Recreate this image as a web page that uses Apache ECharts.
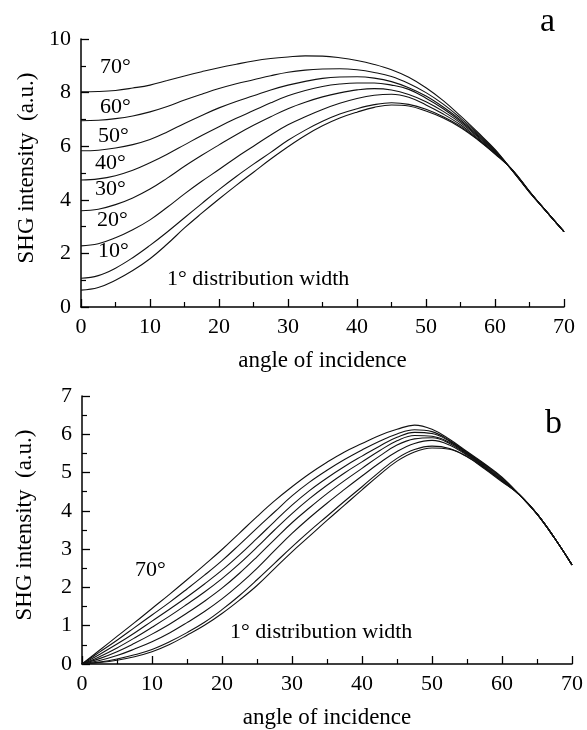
<!DOCTYPE html>
<html>
<head>
<meta charset="utf-8">
<title>SHG intensity vs angle of incidence</title>
<script src="https://cdn.jsdelivr.net/npm/echarts@6/dist/echarts.min.js"></script>
<style>
  html, body { margin: 0; padding: 0; background: #fff; }
  #chart { width: 587px; height: 730px; }
</style>
</head>
<body>
<div id="chart"></div>
<script>
// Angles of incidence (deg), shared by both panels
const angles = [0, 2.5, 5, 7.5, 10, 12.5, 15, 17.5, 20, 22.5, 25, 27.5, 30, 32.5, 35,
                37.5, 40, 42.5, 45, 47.5, 50, 52.5, 55, 57.5, 60, 62.5, 65, 67.5, 70];

// Panel a: SHG intensity for each distribution width
const a70 = [8.03, 8.04, 8.08, 8.17, 8.28, 8.45, 8.62, 8.78, 8.93, 9.06, 9.18, 9.27, 9.33, 9.37, 9.36,
             9.30, 9.20, 9.05, 8.85, 8.57, 8.18, 7.70, 7.13, 6.52, 5.88, 5.09, 4.28, 3.55, 2.81];
const a60 = [6.95, 6.97, 7.03, 7.13, 7.28, 7.48, 7.72, 7.94, 8.15, 8.33, 8.48, 8.63, 8.76, 8.84, 8.88,
             8.89, 8.85, 8.75, 8.60, 8.34, 8.00, 7.57, 7.05, 6.48, 5.85, 5.10, 4.29, 3.55, 2.81];
const a50 = [5.83, 5.85, 5.93, 6.06, 6.25, 6.53, 6.85, 7.15, 7.43, 7.67, 7.88, 8.10, 8.28, 8.42, 8.53,
             8.58, 8.59, 8.54, 8.41, 8.18, 7.87, 7.46, 6.98, 6.43, 5.82, 5.10, 4.29, 3.55, 2.81];
const a40 = [4.74, 4.78, 4.90, 5.10, 5.38, 5.70, 6.05, 6.40, 6.73, 7.04, 7.33, 7.62, 7.88, 8.08, 8.23,
             8.32, 8.36, 8.36, 8.28, 8.12, 7.79, 7.40, 6.93, 6.39, 5.80, 5.11, 4.30, 3.55, 2.81];
const a30 = [3.59, 3.65, 3.82, 4.07, 4.40, 4.81, 5.25, 5.66, 6.05, 6.43, 6.78, 7.10, 7.40, 7.64, 7.84,
             7.99, 8.10, 8.15, 8.10, 7.93, 7.66, 7.30, 6.87, 6.35, 5.78, 5.11, 4.30, 3.55, 2.81];
const a20 = [2.28, 2.36, 2.58, 2.88, 3.25, 3.72, 4.22, 4.69, 5.13, 5.58, 6.00, 6.42, 6.80, 7.10, 7.37,
             7.60, 7.78, 7.90, 7.94, 7.83, 7.54, 7.20, 6.80, 6.30, 5.75, 5.12, 4.31, 3.55, 2.81];
const a10 = [1.07, 1.17, 1.45, 1.84, 2.30, 2.80, 3.33, 3.86, 4.38, 4.87, 5.33, 5.77, 6.22, 6.60, 6.93,
             7.20, 7.40, 7.55, 7.62, 7.56, 7.38, 7.10, 6.74, 6.26, 5.72, 5.12, 4.31, 3.55, 2.81];
const a1  = [0.63, 0.73, 1.00, 1.36, 1.80, 2.35, 2.95, 3.50, 4.03, 4.54, 5.03, 5.52, 5.98, 6.40, 6.76,
             7.05, 7.27, 7.45, 7.54, 7.50, 7.31, 7.05, 6.70, 6.24, 5.71, 5.13, 4.32, 3.55, 2.81];

// Panel b
const b70 = [0, 0.36, 0.72, 1.08, 1.45, 1.82, 2.20, 2.59, 2.99, 3.42, 3.85, 4.26, 4.63, 4.97, 5.27,
             5.54, 5.76, 5.97, 6.13, 6.24, 6.13, 5.87, 5.55, 5.23, 4.88, 4.42, 3.92, 3.29, 2.59];
const b60 = [0, 0.31, 0.62, 0.95, 1.28, 1.61, 1.96, 2.32, 2.70, 3.12, 3.55, 3.97, 4.39, 4.75, 5.06,
             5.34, 5.59, 5.82, 6.01, 6.12, 6.07, 5.84, 5.53, 5.21, 4.86, 4.42, 3.92, 3.29, 2.59];
const b50 = [0, 0.25, 0.52, 0.81, 1.12, 1.43, 1.75, 2.09, 2.45, 2.85, 3.28, 3.72, 4.15, 4.53, 4.86,
             5.16, 5.43, 5.69, 5.92, 6.05, 6.02, 5.82, 5.51, 5.19, 4.84, 4.42, 3.92, 3.29, 2.59];
const b40 = [0, 0.19, 0.42, 0.68, 0.96, 1.25, 1.56, 1.88, 2.23, 2.62, 3.05, 3.50, 3.93, 4.32, 4.67,
             4.99, 5.28, 5.57, 5.83, 5.97, 5.95, 5.79, 5.49, 5.17, 4.82, 4.42, 3.92, 3.29, 2.59];
const b30 = [0, 0.14, 0.32, 0.54, 0.78, 1.04, 1.33, 1.64, 1.98, 2.37, 2.80, 3.25, 3.69, 4.08, 4.45,
             4.79, 5.11, 5.43, 5.72, 5.88, 5.91, 5.76, 5.47, 5.15, 4.80, 4.42, 3.92, 3.29, 2.59];
const b20 = [0, 0.09, 0.22, 0.39, 0.58, 0.81, 1.08, 1.37, 1.70, 2.08, 2.50, 2.96, 3.41, 3.82, 4.20,
             4.56, 4.91, 5.25, 5.55, 5.76, 5.84, 5.72, 5.45, 5.14, 4.79, 4.42, 3.92, 3.29, 2.59];
const b10 = [0, 0.05, 0.13, 0.24, 0.38, 0.58, 0.82, 1.09, 1.42, 1.79, 2.20, 2.63, 3.06, 3.47, 3.86,
             4.25, 4.63, 5.02, 5.37, 5.60, 5.69, 5.63, 5.42, 5.12, 4.78, 4.42, 3.92, 3.29, 2.59];
const b1  = [0, 0.04, 0.10, 0.19, 0.32, 0.51, 0.75, 1.01, 1.32, 1.67, 2.05, 2.49, 2.93, 3.34, 3.75,
             4.15, 4.55, 4.94, 5.30, 5.54, 5.64, 5.61, 5.41, 5.10, 4.76, 4.42, 3.92, 3.29, 2.59];

const widthLabels = ['70°', '60°', '50°', '40°', '30°', '20°', '10°', '1°'];
const panelA = [a70, a60, a50, a40, a30, a20, a10, a1];
const panelB = [b70, b60, b50, b40, b30, b20, b10, b1];

const FONT = '"Liberation Serif", "Times New Roman", serif';
const INK = '#000';

function pairs(xs, ys) { return xs.map((x, i) => [x, ys[i]]); }

function curve(name, ys, idx) {
  return {
    name: name, type: 'line', xAxisIndex: idx, yAxisIndex: idx,
    data: pairs(angles, ys), smooth: 0.4, showSymbol: false, silent: true,
    lineStyle: { color: '#111', width: 1.1 }
  };
}

function xAxis(idx) {
  return {
    type: 'value', gridIndex: idx, min: 0, max: 70, interval: 10,
    name: 'angle of incidence', nameLocation: 'middle', nameGap: 42,
    nameTextStyle: { fontFamily: FONT, fontSize: 23, color: INK },
    axisLine: { lineStyle: { color: INK, width: 1.5 } },
    axisTick: { inside: true, length: 8, lineStyle: { color: INK, width: 1.3 } },
    minorTick: { show: true, splitNumber: 2, length: 5, lineStyle: { color: INK, width: 1.2 } },
    axisLabel: { fontFamily: FONT, fontSize: 22, color: INK, margin: 9 },
    splitLine: { show: false }
  };
}

function yAxis(idx, max, interval, gap) {
  return {
    type: 'value', gridIndex: idx, min: 0, max: max, interval: interval,
    name: 'SHG intensity  (a.u.)', nameLocation: 'middle', nameGap: gap,
    nameTextStyle: { fontFamily: FONT, fontSize: 23, color: INK, padding: [0, 0, 0, 10] },
    axisLine: { show: true, lineStyle: { color: INK, width: 1.5 } },
    axisTick: { show: true, inside: true, length: 8, lineStyle: { color: INK, width: 1.3 } },
    minorTick: { show: true, splitNumber: 2, length: 5, lineStyle: { color: INK, width: 1.2 } },
    axisLabel: { fontFamily: FONT, fontSize: 22, color: INK, margin: 10 },
    splitLine: { show: false }
  };
}

function note(text, x, y, size) {
  return {
    type: 'text', x: x, y: y, silent: true,
    style: { text: text, font: (size || 22) + 'px ' + FONT, fill: INK, textVerticalAlign: 'middle' }
  };
}

const series = [];
widthLabels.forEach((w, i) => series.push(curve('a ' + w, panelA[i], 0)));
widthLabels.forEach((w, i) => series.push(curve('b ' + w, panelB[i], 1)));

const chart = echarts.init(document.getElementById('chart'), null, { renderer: 'canvas' });
chart.setOption({
  animation: false,
  backgroundColor: '#fff',
  grid: [
    { left: 81, top: 39, width: 483, height: 268 },
    { left: 82, top: 396, width: 490, height: 268 }
  ],
  xAxis: [xAxis(0), xAxis(1)],
  yAxis: [yAxis(0, 10, 2, 40), yAxis(1, 7, 1, 46)],
  series: series,
  graphic: [
    note('a', 540, 22, 34),
    note('70°', 100, 67),
    note('60°', 100, 107),
    note('50°', 98, 136),
    note('40°', 95, 163),
    note('30°', 95, 189),
    note('20°', 97, 220),
    note('10°', 98, 251),
    note('1° distribution width', 167, 279),
    note('b', 545, 424, 34),
    note('70°', 135, 570),
    note('1° distribution width', 230, 632)
  ]
});
</script>
</body>
</html>
